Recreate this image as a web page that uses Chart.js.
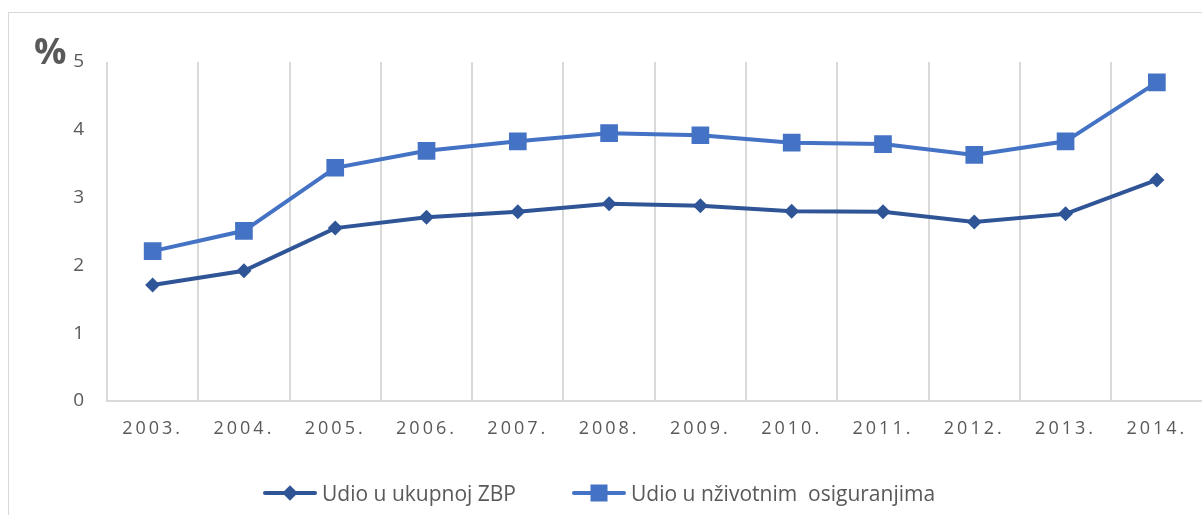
<!DOCTYPE html>
<html>
<head>
<meta charset="utf-8">
<script src="https://cdn.jsdelivr.net/npm/chart.js@4.4.1/dist/chart.umd.min.js"></script>
<style>
  html, body { margin: 0; padding: 0; overflow: hidden; background: #fff; width: 1202px; height: 515px; }
  #frame { position: absolute; left: 8px; top: 12px; width: 1220px; height: 530px; border: 1px solid #d9d9d9; }
  #chart { position: absolute; left: 0; top: 0; }
  #legend { position: absolute; left: 263px; top: 479px; display: flex; align-items: center;
            font-family: "Open Sans", sans-serif; font-size: 21px; color: #595959; white-space: pre; }
  .item { display: flex; align-items: center; margin-right: 56px; }
  .sym { position: relative; width: 54px; height: 20px; margin-right: 5px; }
  .sym .ln { position: absolute; left: 0; right: 0; top: 8px; height: 4px; border-radius: 2px; }
  .sym .mk { position: absolute; left: 50%; top: 50%; transform: translate(-50%, -50%); }
</style>
</head>
<body>
<div id="frame"></div>
<canvas id="chart" width="1215" height="515"></canvas>
<div id="legend"></div>
<script>
// Udio ... u ZBP / životnim osiguranjima, 2003.-2014.
const years = ['2003.', '2004.', '2005.', '2006.', '2007.', '2008.', '2009.', '2010.', '2011.', '2012.', '2013.', '2014.'];
const shareTotal = [1.71, 1.92, 2.55, 2.71, 2.79, 2.91, 2.88, 2.80, 2.79, 2.64, 2.76, 3.26];
const shareLife = [2.21, 2.51, 3.44, 3.69, 3.83, 3.95, 3.92, 3.81, 3.79, 3.63, 3.83, 4.70];
const seriesNames = ['Udio u ukupnoj ZBP', 'Udio u nživotnim  osiguranjima'];
const seriesColors = ['#2f5597', '#4472c4'];
const yMin = 0, yMax = 5;

const grey = '#595959';
const gridColor = '#d9d9d9';

// "%" above the value axis
const percentLabel = {
  id: 'percentLabel',
  afterDraw(chart) {
    const { ctx, chartArea } = chart;
    ctx.save();
    ctx.font = 'bold 36px "Open Sans", sans-serif';
    ctx.fillStyle = grey;
    ctx.textAlign = 'left';
    ctx.textBaseline = 'alphabetic';
    ctx.fillText('%', chartArea.left - 73, chartArea.top + 2);
    ctx.restore();
  }
};

// spaced-out year labels like the original
const spacedTicks = {
  id: 'spacedTicks',
  beforeDraw(chart) {
    const sc = chart.scales.x;
    if (!sc || sc._spaced) return;
    const orig = sc.drawLabels;
    sc.drawLabels = function (area) {
      this.ctx.save();
      this.ctx.letterSpacing = '3px';
      orig.call(this, area);
      this.ctx.restore();
    };
    sc._spaced = true;
  }
};

new Chart(document.getElementById('chart'), {
  type: 'line',
  data: {
    labels: years,
    datasets: [
      {
        label: seriesNames[0],
        data: shareTotal,
        borderColor: seriesColors[0],
        backgroundColor: seriesColors[0],
        borderWidth: 4,
        pointStyle: 'rectRot',
        pointRadius: 7.5,
        pointHoverRadius: 7.5,
        pointBorderWidth: 0,
        tension: 0
      },
      {
        label: seriesNames[1],
        data: shareLife,
        borderColor: seriesColors[1],
        backgroundColor: seriesColors[1],
        borderWidth: 4,
        pointStyle: 'rect',
        pointRadius: 12.5,
        pointHoverRadius: 12.5,
        pointBorderWidth: 0,
        tension: 0
      }
    ]
  },
  options: {
    responsive: false,
    animation: false,
    layout: { padding: { top: 62, right: 6, left: 0, bottom: 0 } },
    plugins: { legend: { display: false }, tooltip: { enabled: false } },
    scales: {
      x: {
        offset: true,
        grid: { display: true, color: gridColor, lineWidth: 2, offset: true, drawTicks: false },
        border: { display: true, color: gridColor, width: 2 },
        ticks: { color: grey, font: { family: '"Open Sans", sans-serif', size: 18 }, padding: 17, maxRotation: 0, autoSkip: false },
        afterFit(s) { s.height = 114; }
      },
      y: {
        min: yMin,
        max: yMax,
        grid: { display: false, drawTicks: false },
        border: { display: false },
        ticks: { stepSize: 1, color: grey, font: { family: '"Open Sans", sans-serif', size: 19 }, padding: 23 },
        afterFit(s) { s.width = 107; }
      }
    }
  },
  plugins: [percentLabel, spacedTicks]
});

// legend: line with its marker, then the name
const legend = document.getElementById('legend');
seriesNames.forEach((name, i) => {
  const mk = i === 0
    ? `<span class="mk" style="width:11px;height:11px;background:${seriesColors[i]};transform:translate(-50%,-50%) rotate(45deg)"></span>`
    : `<span class="mk" style="width:17px;height:17px;background:${seriesColors[i]}"></span>`;
  legend.insertAdjacentHTML('beforeend',
    `<div class="item"><span class="sym"><span class="ln" style="background:${seriesColors[i]}"></span>${mk}</span>${name}</div>`);
});
</script>
</body>
</html>
